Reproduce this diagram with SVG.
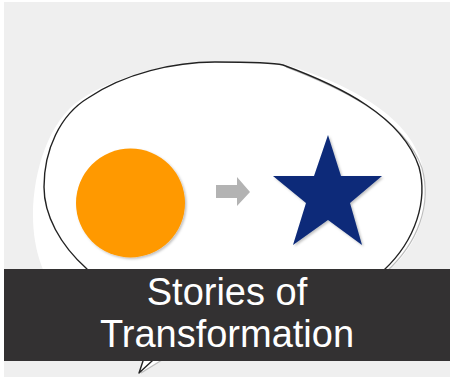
<svg xmlns="http://www.w3.org/2000/svg" width="452" height="381" viewBox="0 0 452 381">
  <defs>
    <filter id="sh" x="-20%" y="-20%" width="140%" height="140%">
      <feDropShadow dx="1.5" dy="1.5" stdDeviation="1" flood-color="#000" flood-opacity="0.25"/>
    </filter>
    <style>
      .bg{fill:#efefef}
      .bubbleFill{fill:#fff}
      .bubbleLine{fill:none;stroke:#222;stroke-width:1.4;stroke-linejoin:round}
      .bubbleShadow{fill:none;stroke:#bdbdbd;stroke-width:1.2}
      .banner{fill:#333132}
      .title{font-family:"Liberation Sans",Arial,sans-serif;font-size:38px;fill:#fff;text-anchor:middle}
    </style>
  </defs>
  <rect x="0" y="0" width="452" height="381" fill="#fff"/>
  <rect class="bg" x="4" y="2" width="446" height="375"/>

  <g id="bubble">
    <path class="bubbleFill" d="M 283,64 C 345,82 410,115 422,165 C 432,205 420,245 387,272 L 300,345 L 163,360 L 139,373 L 143,358 C 80,330 33,290 33,215 C 33,170 50,120 80,100 C 120,73 175,62 215,62 C 250,62 275,62 283,64 Z"/>
    <path class="bubbleShadow" d="M 286,67 C 343,89 404,118 422,168 C 432,205 418,243 386,272"/>
    <path class="bubbleShadow" d="M 141,373 L 162,360"/>
    <path class="bubbleLine" d="M 283,65 C 340,86 402,116 419,167 C 428,200 416,240 384,270 C 350,320 250,350 158,355 L 152,361 L 139,373 L 143,361 L 146,355 C 110,330 90,290 87,269 C 60,245 44,215 44,187 C 44,150 60,115 88,98 C 125,73 175,62 215,62 C 250,62 275,63 283,65 Z"/>
  </g>

  <g id="circle">
    <circle cx="130.5" cy="203" r="54.5" fill="#ff9900" filter="url(#sh)"/>
  </g>

  <g id="connectors">
    <polygon points="216,185 237,185 237,177 250,192 237,206 237,198 216,198" fill="#b3b3b3"/>
  </g>

  <g id="star">
    <polygon points="328,135 341,176 382,176 350,203 362,245 328,220 293,245 306,203 273,176 314,176" fill="#0b2a79" filter="url(#sh)"/>
  </g>

  <g id="banner">
    <rect class="banner" x="4" y="269" width="446" height="92"/>
    <text class="title" x="227" y="305">Stories of</text>
    <text class="title" x="227" y="347">Transformation</text>
  </g>
</svg>
